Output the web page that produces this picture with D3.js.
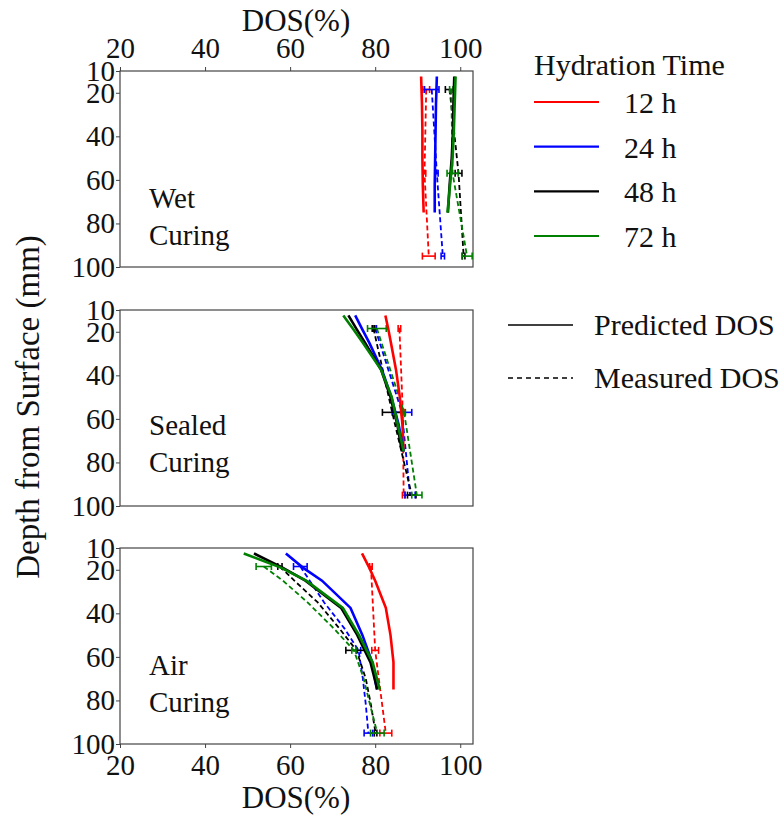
<!DOCTYPE html>
<html>
<head>
<meta charset="utf-8">
<script src="https://cdn.jsdelivr.net/npm/d3@7"></script>
<style>
  body { margin: 0; background: #fff; }
  svg { font-family: "Liberation Serif", "Times New Roman", serif; }
</style>
</head>
<body>
<svg id="chart" width="783" height="816"></svg>
<script>
// depths (mm) where the predicted and measured curves have vertices
const depthPred = [12.5, 19, 25, 37.5, 50, 62.5, 75];
const depthMeas = [18.5, 25, 35, 47, 57, 70, 82, 95];
const errDepths = [18.5, 57, 95];

const hours = ["12 h", "24 h", "48 h", "72 h"];
const colors = ["#ff0000", "#0000ff", "#000000", "#008000"];
const xTicks = [20, 40, 60, 80, 100];
const yTicks = [10, 20, 40, 60, 80, 100];
const panelNames = [["Wet", "Curing"], ["Sealed", "Curing"], ["Air", "Curing"]];

// wet curing
const wetPred = [
    [90.8, 90.9, 91.0, 91.1, 91.1, 91.2, 91.4],
    [94.5, 94.4, 94.3, 94.2, 94.1, 94.0, 94.0],
    [98.6, 98.5, 98.4, 98.3, 98.0, 97.5, 97.1],
    [98.9, 98.8, 98.7, 98.5, 98.2, 97.6, 97.0]
];
const wetMeas = [
    [92.0, null, null, null, 91.6, null, null, 92.6],
    [93.3, null, null, null, 94.5, null, null, 95.9],
    [97.5, null, null, null, 99.6, null, null, 100.8],
    [97.9, null, null, null, 98.2, null, null, 101.6]
];
const wetErr = [[0.8, 0.3, 1.5], [1.7, 0.3, 0.4], [1.0, 0.8, 0.3], [0.4, 1.3, 1.2]];

// sealed curing
const sealedPred = [
    [82.4, 83.1, 83.7, 84.9, 85.8, 86.4, 86.7],
    [75.3, 77.0, 78.6, 81.6, 83.8, 85.5, 86.7],
    [73.7, 75.7, 77.6, 81.4, 83.6, 85.2, 86.3],
    [72.5, 74.9, 77.1, 81.4, 83.9, 85.3, 86.7]
];
const sealedMeas = [
    [85.7, null, null, null, 86.5, null, null, 86.7],
    [80.0, null, null, null, 86.3, null, null, 88.2],
    [79.6, null, null, null, 84.0, null, null, 88.6],
    [80.4, null, null, null, 86.8, null, null, 89.8]
];
const sealedErr = [[0.3, 0.3, 0.3], [0.3, 2.3, 1.2], [0.3, 2.3, 1.0], [2.2, 0.3, 1.2]];

// air curing
const airPred = [
    [76.9, 78.6, 80.0, 82.5, 83.6, 84.3, 84.3],
    [59.0, 63.0, 67.5, 74.2, 77.0, 79.3, 80.4],
    [51.5, 58.2, 63.6, 72.0, 75.8, 78.9, 80.5],
    [49.1, 57.8, 63.8, 72.4, 76.2, 79.4, 81.1]
];
const airMeas = [
    [79.0, null, null, null, 80.0, null, null, 82.5],
    [62.4, 64.6, 68.0, 72.8, 76.1, 77.1, 77.8, 78.4],
    [57.6, 61.0, 66.5, 71.6, 75.6, 77.8, 79.0, 80.1],
    [53.8, 58.3, 64.1, 70.3, 75.0, 77.3, 78.8, 80.5]
];
const airErr = [[0.3, 0.8, 1.4], [1.6, 0.5, 1.0], [0.5, 2.5, 0.3], [1.8, 0.5, 1.6]];

const panels = [
    {pred: wetPred, meas: wetMeas, err: wetErr, top: 71, label: 137},
    {pred: sealedPred, meas: sealedMeas, err: sealedErr, top: 310, label: 125},
    {pred: airPred, meas: airMeas, err: airErr, top: 548, label: 127}
];

const svg = d3.select("#chart");
const left = 120, right = 473, ph = 196;
const tickFont = 29;

const x = d3.scaleLinear().domain([20, 103]).range([left, right]);

function styleAxis(a) {
    a.select(".domain").remove();
    a.selectAll("line").attr("stroke", "#444");
    a.selectAll("text")
        .attr("font-size", tickFont)
        .attr("font-family", "Liberation Serif")
        .attr("fill", "#111");
}

panels.forEach((p, i) => {
    const y = d3.scaleLinear().domain([10, 100]).range([p.top, p.top + ph]);
    const g = svg.append("g");

    // frame
    g.append("rect")
        .attr("x", left).attr("y", p.top)
        .attr("width", right - left).attr("height", ph)
        .attr("fill", "none").attr("stroke", "#444").attr("stroke-width", 1.2);

    g.append("g")
        .attr("transform", `translate(${left},0)`)
        .call(d3.axisLeft(y).tickValues(yTicks).tickSize(4).tickPadding(1))
        .call(styleAxis);

    if (i === 0) {
        g.append("g")
            .attr("transform", `translate(0,${p.top})`)
            .call(d3.axisTop(x).tickValues(xTicks).tickSize(4).tickPadding(9))
            .call(styleAxis);
    }
    if (i === 2) {
        g.append("g")
            .attr("transform", `translate(0,${p.top + ph})`)
            .call(d3.axisBottom(x).tickValues(xTicks).tickSize(4).tickPadding(6))
            .call(styleAxis);
    }

    // panel name
    g.append("text")
        .attr("x", 149).attr("y", p.top + p.label)
        .attr("font-size", 29).attr("fill", "#111")
        .selectAll("tspan").data(panelNames[i]).enter()
        .append("tspan")
        .attr("x", 149).attr("dy", (d, k) => k === 0 ? 0 : 37)
        .text(d => d);

    const line = d3.line().x(d => x(d[0])).y(d => y(d[1]));

    // measured (dashed) + error bars
    p.meas.forEach((vals, s) => {
        const pts = vals.map((v, k) => [v, depthMeas[k]]).filter(d => d[0] !== null);
        g.append("path")
            .attr("d", line(pts))
            .attr("fill", "none").attr("stroke", colors[s])
            .attr("stroke-width", 1.8).attr("stroke-dasharray", "5,3");

        errDepths.forEach((dep, k) => {
            const v = vals[depthMeas.indexOf(dep)];
            const e = p.err[s][k];
            const eb = g.append("g").attr("stroke", colors[s]).attr("stroke-width", 1.6);
            eb.append("line")
                .attr("x1", x(v - e)).attr("x2", x(v + e))
                .attr("y1", y(dep)).attr("y2", y(dep));
            [v - e, v + e].forEach(c => {
                eb.append("line")
                    .attr("x1", x(c)).attr("x2", x(c))
                    .attr("y1", y(dep) - 3.5).attr("y2", y(dep) + 3.5);
            });
        });
    });

    // predicted (solid)
    p.pred.forEach((vals, s) => {
        g.append("path")
            .attr("d", line(vals.map((v, k) => [v, depthPred[k]])))
            .attr("fill", "none").attr("stroke", colors[s])
            .attr("stroke-width", 2.6);
    });
});

// axis titles
svg.append("text")
    .attr("x", 296).attr("y", 31)
    .attr("text-anchor", "middle").attr("font-size", 31).attr("fill", "#111")
    .text("DOS(%)");
svg.append("text")
    .attr("x", 296).attr("y", 808)
    .attr("text-anchor", "middle").attr("font-size", 31).attr("fill", "#111")
    .text("DOS(%)");
svg.append("text")
    .attr("transform", "translate(39,407) rotate(-90)")
    .attr("text-anchor", "middle").attr("font-size", 33).attr("fill", "#111")
    .text("Depth from Surface (mm)");

// legend: hydration time
const leg = svg.append("g");
leg.append("text")
    .attr("x", 534).attr("y", 75)
    .attr("font-size", 30).attr("fill", "#111")
    .text("Hydration Time");
const legY = d3.scalePoint().domain(hours).range([102, 236]);
hours.forEach((h, i) => {
    leg.append("line")
        .attr("x1", 534).attr("x2", 599)
        .attr("y1", legY(h)).attr("y2", legY(h))
        .attr("stroke", colors[i]).attr("stroke-width", 2.2);
    leg.append("text")
        .attr("x", 624).attr("y", legY(h) + 11)
        .attr("font-size", 30).attr("fill", "#111")
        .text(h);
});

// legend: line style
const styles = [["Predicted DOS", null, 325], ["Measured DOS", "5,4", 378]];
styles.forEach(s => {
    leg.append("line")
        .attr("x1", 508).attr("x2", 573)
        .attr("y1", s[2]).attr("y2", s[2])
        .attr("stroke", "#000").attr("stroke-width", 1.6)
        .attr("stroke-dasharray", s[1]);
    leg.append("text")
        .attr("x", 594).attr("y", s[2] + 10)
        .attr("font-size", 30).attr("fill", "#111")
        .text(s[0]);
});
</script>
</body>
</html>
